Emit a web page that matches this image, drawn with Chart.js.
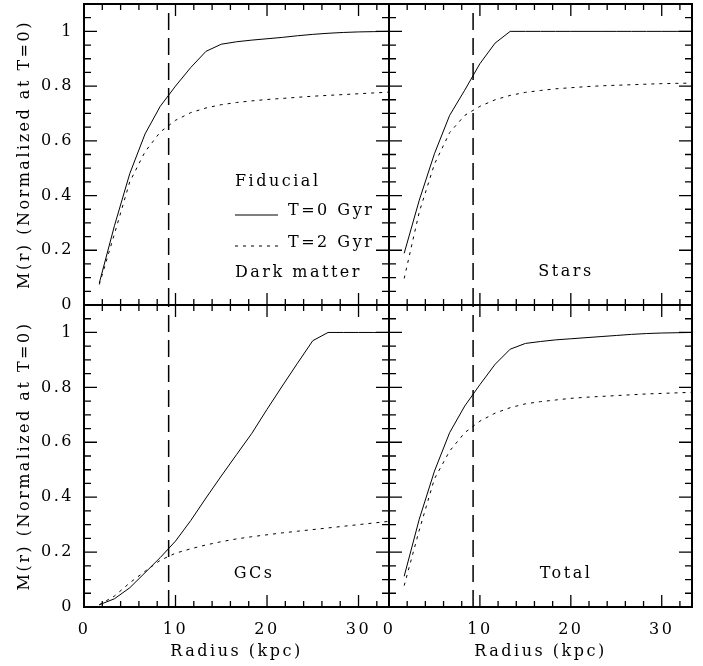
<!DOCTYPE html>
<html>
<head>
<meta charset="utf-8">
<script src="https://cdn.jsdelivr.net/npm/chart.js@4.4.1/dist/chart.umd.min.js"></script>
<style>
  html, body { margin: 0; padding: 0; background: #fff; }
  #wrap { position: relative; width: 703px; height: 666px; }
  #wrap canvas { position: absolute; left: 0; top: 0; }
</style>
</head>
<body>
<div id="wrap">
  <canvas id="dm" width="703" height="666"></canvas>
  <canvas id="stars" width="703" height="666"></canvas>
  <canvas id="gcs" width="703" height="666"></canvas>
  <canvas id="total" width="703" height="666"></canvas>
</div>
<script>
// radii (kpc) where the enclosed mass is sampled
const radius = [1.67, 3.33, 5, 6.67, 8.33, 10, 11.67, 13.33, 15, 16.67,
                18.33, 20, 21.67, 23.33, 25, 26.67, 28.33, 30, 31.67, 33.33];

// M(r) normalised to the T=0 total, for T=0 and T=2 Gyr
const dmT0 = [0.08, 0.29, 0.48, 0.625, 0.726, 0.80, 0.868, 0.927, 0.953, 0.962,
              0.968, 0.973, 0.978, 0.984, 0.989, 0.993, 0.996, 0.998, 0.999, 1.0];
const dmT2 = [0.075, 0.26, 0.45, 0.56, 0.632, 0.675, 0.703, 0.72, 0.732, 0.74,
              0.746, 0.751, 0.755, 0.759, 0.763, 0.766, 0.769, 0.772, 0.775, 0.778];

const starsT0 = [0.189, 0.383, 0.553, 0.693, 0.785, 0.882, 0.957, 1.0, 1.0, 1.0,
                 1.0, 1.0, 1.0, 1.0, 1.0, 1.0, 1.0, 1.0, 1.0, 1.0];
const starsT2 = [0.097, 0.34, 0.515, 0.63, 0.693, 0.726, 0.75, 0.766, 0.777, 0.784,
                 0.79, 0.794, 0.798, 0.801, 0.803, 0.805, 0.807, 0.809, 0.81, 0.811];

const gcT0 = [0.008, 0.03, 0.07, 0.125, 0.18, 0.24, 0.315, 0.397, 0.477, 0.555,
              0.632, 0.72, 0.805, 0.888, 0.97, 1.0, 1.0, 1.0, 1.0, 1.0];
const gcT2 = [0.008, 0.04, 0.088, 0.13, 0.17, 0.196, 0.212, 0.226, 0.238, 0.248,
              0.256, 0.263, 0.27, 0.276, 0.282, 0.288, 0.294, 0.3, 0.306, 0.312];

const totalT0 = [0.112, 0.32, 0.495, 0.635, 0.732, 0.81, 0.884, 0.939, 0.96, 0.967,
                 0.973, 0.977, 0.981, 0.985, 0.989, 0.993, 0.996, 0.998, 0.999, 1.0];
const totalT2 = [0.078, 0.28, 0.467, 0.568, 0.635, 0.677, 0.706, 0.726, 0.74, 0.748,
                 0.754, 0.76, 0.764, 0.767, 0.77, 0.773, 0.776, 0.778, 0.78, 0.782];

// radius marked by the vertical dashed line
const rCut = 9.25;

const xTickLabels = [0, 10, 20, 30];
const yTickLabels = [0, 0.2, 0.4, 0.6, 0.8, 1];

const X_MAX = 33.33;
const Y_MAX = 1.1;
const FONT = "'DejaVu Serif', serif";
const SPACING = '2.5px';

Chart.defaults.font.family = FONT;
Chart.defaults.font.size = 16;
Chart.defaults.color = '#000';

// boxed frame with inward ticks on every side, plus the panel captions
const smFrame = {
  id: 'smFrame',
  beforeLayout(chart) { chart.ctx.letterSpacing = SPACING; },
  beforeDraw(chart) { chart.ctx.letterSpacing = SPACING; },
  afterDraw(chart, args, opts) {
    const {ctx, chartArea: a} = chart;
    const x = chart.scales.x, y = chart.scales.y;
    ctx.save();
    ctx.strokeStyle = '#000';
    ctx.lineWidth = 1.3;
    ctx.setLineDash([]);
    ctx.beginPath();
    for (let v = 0; v <= X_MAX; v += 2) {
      const px = x.getPixelForValue(v);
      const len = v % 10 === 0 ? 12 : 6;
      ctx.moveTo(px, a.bottom); ctx.lineTo(px, a.bottom - len);
      ctx.moveTo(px, a.top); ctx.lineTo(px, a.top + len);
    }
    for (let i = 0; i * 0.05 <= Y_MAX + 1e-6; i++) {
      const py = y.getPixelForValue(i * 0.05);
      const len = i % 4 === 0 ? 13 : 7;
      ctx.moveTo(a.left, py); ctx.lineTo(a.left + len, py);
      ctx.moveTo(a.right, py); ctx.lineTo(a.right - len, py);
    }
    ctx.stroke();
    ctx.lineWidth = 2;
    ctx.strokeRect(a.left, a.top, a.right - a.left, a.bottom - a.top);

    ctx.fillStyle = '#000';
    ctx.font = '16px ' + FONT;
    ctx.letterSpacing = SPACING;
    ctx.textBaseline = 'alphabetic';
    ctx.textAlign = opts.align || 'center';
    ctx.fillText(opts.label, opts.labelX, opts.labelY);

    if (opts.legend) {
      ctx.textAlign = 'left';
      ctx.fillText('Fiducial', 235, 186);
      ctx.fillText('T=0 Gyr', 288, 215);
      ctx.fillText('T=2 Gyr', 288, 247);
      ctx.lineWidth = 1;
      ctx.beginPath();
      ctx.moveTo(235, 215); ctx.lineTo(278, 215);
      ctx.stroke();
      ctx.setLineDash([3, 5]);
      ctx.beginPath();
      ctx.moveTo(235, 246); ctx.lineTo(278, 246);
      ctx.stroke();
    }
    ctx.restore();
  }
};

function makePanel(id, t0, t2, o) {
  const pts = arr => radius.map((r, i) => ({x: r, y: arr[i]}));
  return new Chart(document.getElementById(id), {
    type: 'line',
    data: {
      datasets: [
        { data: pts(t0), borderColor: '#000', borderWidth: 1 },
        { data: pts(t2), borderColor: '#000', borderWidth: 1, borderDash: [3, 5] },
        { data: [{x: rCut, y: 0}, {x: rCut, y: Y_MAX}], borderColor: '#000',
          borderWidth: 1.5, borderDash: [17, 8] }
      ]
    },
    options: {
      responsive: false,
      animation: false,
      events: [],
      layout: { padding: o.padding },
      elements: { point: { radius: 0 }, line: { tension: 0, fill: false } },
      plugins: { legend: { display: false }, tooltip: { enabled: false }, smFrame: o.frame },
      scales: {
        x: {
          type: 'linear', min: 0, max: X_MAX,
          grid: { display: false, drawTicks: false },
          border: { display: false },
          ticks: { display: o.xLabels, padding: 13, maxRotation: 0, autoSkip: false,
                   callback: v => String(v) },
          afterBuildTicks: s => { s.ticks = xTickLabels.map(v => ({value: v})); },
          afterFit: s => {
            s.height = o.xLabels ? 59 : 0;
            s.paddingLeft = s.paddingRight = s.paddingTop = s.paddingBottom = 0;
          },
          title: { display: o.xLabels, text: 'Radius (kpc)', padding: { top: 0, bottom: 5 } }
        },
        y: {
          type: 'linear', min: 0, max: Y_MAX,
          grid: { display: false, drawTicks: false },
          border: { display: false },
          ticks: { display: o.yLabels, padding: 10, autoSkip: false,
                   callback: v => String(v) },
          afterBuildTicks: s => { s.ticks = yTickLabels.map(v => ({value: v})); },
          afterFit: s => {
            s.width = o.yLabels ? 84 : 0;
            s.paddingLeft = s.paddingRight = s.paddingTop = s.paddingBottom = 0;
          },
          title: { display: o.yLabels, text: 'M(r) (Normalized at T=0)', padding: { top: 15, bottom: 0 } }
        }
      }
    },
    plugins: [smFrame]
  });
}

makePanel('dm', dmT0, dmT2, {
  padding: { left: 0, top: 4, right: 314, bottom: 361 },
  xLabels: false, yLabels: true,
  frame: { label: 'Dark matter', labelX: 235, labelY: 277, align: 'left', legend: true }
});
makePanel('stars', starsT0, starsT2, {
  padding: { left: 389, top: 4, right: 11, bottom: 361 },
  xLabels: false, yLabels: false,
  frame: { label: 'Stars', labelX: 566, labelY: 276 }
});
makePanel('gcs', gcT0, gcT2, {
  padding: { left: 0, top: 305, right: 314, bottom: 0 },
  xLabels: true, yLabels: true,
  frame: { label: 'GCs', labelX: 254, labelY: 578 }
});
makePanel('total', totalT0, totalT2, {
  padding: { left: 389, top: 305, right: 11, bottom: 0 },
  xLabels: true, yLabels: false,
  frame: { label: 'Total', labelX: 566, labelY: 578 }
});
</script>
</body>
</html>
